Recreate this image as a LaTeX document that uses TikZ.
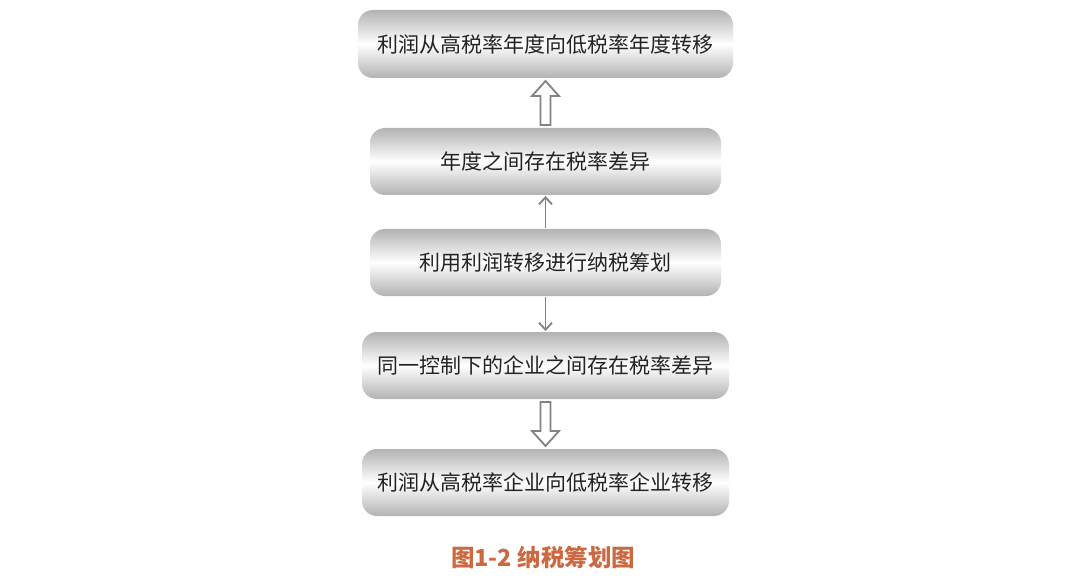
\documentclass[tikz,border=0pt]{standalone}
\usepackage{fontspec}
\newfontfamily\cjk{Noto Sans CJK SC}
\usetikzlibrary{calc,arrows.meta}
\definecolor{txt}{RGB}{35,35,35}
\definecolor{cap}{RGB}{205,105,65}
\definecolor{edge}{RGB}{130,130,130}
\begin{document}
\begin{tikzpicture}[x=1pt,y=-1pt,
  box/.style={rounded corners=15pt, top color=black!30, bottom color=black!30, middle color=white, draw=none},
  lbl/.style={font=\cjk\fontsize{21}{24}\selectfont, text=txt},
  thin/.style={draw=edge, line width=1.8pt, -{Straight Barb[length=7pt,width=13pt]}},
  hollow/.style={draw=edge, line width=1.8pt, fill=white, line join=miter}]
\useasboundingbox (0,0) rectangle (1090,580);
\fill[white] (0,0) rectangle (1090,580);
% boxes
\shade[box] (358,10) rectangle (733,78);
\node[lbl] (b1) at (545.5,44) {利润从高税率年度向低税率年度转移};
\shade[box] (370,128) rectangle (721,195);
\node[lbl] (b2) at (545.5,161.5) {年度之间存在税率差异};
\shade[box] (370,229) rectangle (721,296);
\node[lbl] (b3) at (545.5,262.5) {利用利润转移进行纳税筹划};
\shade[box] (362,332) rectangle (729,399);
\node[lbl] (b4) at (545.5,365.5) {同一控制下的企业之间存在税率差异};
\shade[box] (362,449) rectangle (729,516);
\node[lbl] (b5) at (545.5,482.5) {利润从高税率企业向低税率企业转移};
\coordinate (t2) at (545.5,228);
\coordinate (u2) at (545.5,196);
\coordinate (t3) at (545.5,297);
\coordinate (u4) at (545.5,331);
% thin arrows
\draw[thin] (t2) -- (u2);
\draw[thin] (t3) -- (u4);
% hollow up arrow
\draw[hollow] (540.5,125) -- (540.5,96) -- (532,96) -- (545.5,81) -- (559,96) -- (550.5,96) -- (550.5,125) -- cycle;
% hollow down arrow
\draw[hollow] (540.5,402) -- (540.5,431) -- (532,431) -- (545.5,446) -- (559,431) -- (550.5,431) -- (550.5,402) -- cycle;
% caption
\node[font=\cjk\bfseries\fontsize{23.5}{26}\selectfont, text=cap] (cap) at (543,557) {图1-2 纳税筹划图};
\end{tikzpicture}
\end{document}
